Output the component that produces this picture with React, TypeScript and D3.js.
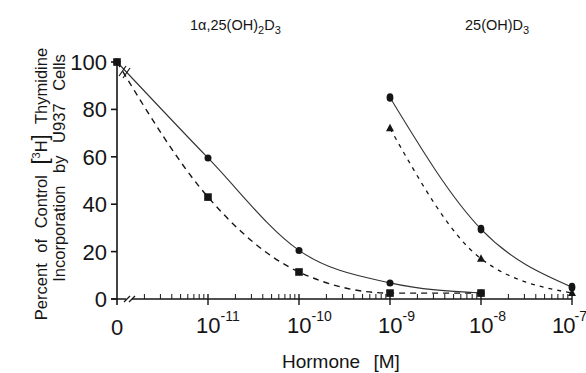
import React from "react";
import * as d3 from "d3";

// 1α,25(OH)2D3 series
const CAL_DOSE = [0, 1e-11, 1e-10, 1e-9, 1e-8];
const CAL_CIRCLE = [100, 59.5, 20.5, 6.8, 2.5];
const CAL_SQUARE = [100, 43, 11.4, 2.5, 2.5];

// 25(OH)D3 series
const HYD_DOSE = [1e-9, 1e-8, 1e-7];
const HYD_CIRCLE = [85, 29.5, 5];
const HYD_TRIANGLE = [72, 17, 2.5];

const Y_TICKS = [0, 20, 40, 60, 80, 100];
const X_DECADES = [-11, -10, -9, -8, -7];

const W = 586;
const H = 373;
const FONT = "'Liberation Sans', Arial, sans-serif";
const INK = "#151515";

export default function App() {
  const x = d3.scaleLog().domain([1e-12, 1e-7]).range([117, 572]);
  const y = d3.scaleLinear().domain([0, 100]).range([299, 62]);
  const xPos = (d: number) => (d === 0 ? x(1e-12) : x(d));

  const line = d3
    .line<[number, number]>()
    .x((d) => xPos(d[0]))
    .y((d) => y(d[1]))
    .curve(d3.curveMonotoneX);

  const zip = (a: number[], b: number[]) => a.map((v, i) => [v, b[i]] as [number, number]);

  const minor: number[] = [];
  for (let e = -12; e <= -8; e++) {
    for (let k = 2; k <= 9; k++) minor.push(k * Math.pow(10, e));
  }

  const y0 = y(0);

  return (
    <svg
      width={W}
      height={H}
      style={{ position: "absolute", left: 0, top: 0, background: "#fff" }}
      fontFamily={FONT}
      fill={INK}
    >
      <rect width={W} height={H} fill="#fff" />

      {/* titles */}
      <text x={190} y={30} fontSize={14.5}>
        1α,25(OH)<tspan fontSize={11} dy={4}>2</tspan>
        <tspan dy={-4}>D</tspan>
        <tspan fontSize={11} dy={4}>3</tspan>
      </text>
      <text x={465} y={30} fontSize={14.5}>
        25(OH)D<tspan fontSize={11} dy={4}>3</tspan>
      </text>

      {/* y axis */}
      <line x1={117} x2={117} y1={y(100)} y2={y0 + 6} stroke={INK} strokeWidth={1.6} />
      {Y_TICKS.map((t) => (
        <g key={t}>
          <line x1={111} x2={117} y1={y(t)} y2={y(t)} stroke={INK} strokeWidth={1.6} />
          <text x={107} y={y(t) + 8} fontSize={22} textAnchor="end">
            {t}
          </text>
        </g>
      ))}

      {/* x axis */}
      <line x1={111} x2={x(1e-7)} y1={y0} y2={y0} stroke={INK} strokeWidth={1.6} />
      <rect x={126} y={y0 - 2} width={6} height={4} fill="#fff" />
      <line x1={124} x2={130} y1={y0 + 3} y2={y0 - 3} stroke={INK} strokeWidth={1.3} />
      <line x1={129} x2={135} y1={y0 + 3} y2={y0 - 3} stroke={INK} strokeWidth={1.3} />
      {minor.map((m, i) => (
        <line key={i} x1={x(m)} x2={x(m)} y1={y0} y2={y0 - 5} stroke={INK} strokeWidth={1} />
      ))}
      {X_DECADES.map((e) => {
        const tx = x(Math.pow(10, e));
        const last = e === X_DECADES[X_DECADES.length - 1];
        return (
          <g key={e}>
            <line x1={tx} x2={tx} y1={y0 - 5} y2={y0 + 6} stroke={INK} strokeWidth={1.4} />
            <text x={last ? tx - 20 : tx - 12} y={333} fontSize={22} letterSpacing={last ? -1 : 0}>
              10
              <tspan fontSize={14} dy={-12} letterSpacing={0}>
                {e}
              </tspan>
            </text>
          </g>
        );
      })}
      <text x={117} y={335} fontSize={22} textAnchor="middle">
        0
      </text>

      {/* axis titles */}
      <text x={282} y={368} fontSize={19} wordSpacing={8}>
        Hormone  [M]
      </text>
      <text
        transform={`translate(47,184) rotate(-90)`}
        fontSize={16.5}
        textAnchor="middle"
        wordSpacing={6}
      >
        Percent of Control{" "}
        <tspan fontSize={22}>[</tspan>
        <tspan fontSize={11} dy={-7}>3</tspan>
        <tspan dy={7}>H</tspan>
        <tspan fontSize={22}>]</tspan> Thymidine
      </text>
      <text
        transform={`translate(65,168) rotate(-90)`}
        fontSize={16.5}
        textAnchor="middle"
        wordSpacing={8}
      >
        Incorporation by U937 Cells
      </text>

      {/* curves */}
      <path d={line(zip(CAL_DOSE, CAL_CIRCLE)) || ""} fill="none" stroke="#333" strokeWidth={1.1} />
      <path
        d={line(zip(CAL_DOSE, CAL_SQUARE)) || ""}
        fill="none"
        stroke={INK}
        strokeWidth={1.4}
        strokeDasharray="6,5"
      />
      <path d={line(zip(HYD_DOSE, HYD_CIRCLE)) || ""} fill="none" stroke="#333" strokeWidth={1.1} />
      <path
        d={line(zip(HYD_DOSE, HYD_TRIANGLE)) || ""}
        fill="none"
        stroke={INK}
        strokeWidth={1.3}
        strokeDasharray="4,5"
      />

      {/* break marks on curves */}
      <line x1={119} x2={126} y1={76} y2={66} stroke={INK} strokeWidth={1.2} />
      <line x1={123} x2={130} y1={78} y2={68} stroke={INK} strokeWidth={1.2} />

      {/* markers */}
      {CAL_DOSE.map((d, i) => (
        <circle key={"cc" + i} cx={xPos(d)} cy={y(CAL_CIRCLE[i])} r={3.5} />
      ))}
      {CAL_DOSE.map((d, i) => (
        <rect key={"cs" + i} x={xPos(d) - 3.8} y={y(CAL_SQUARE[i]) - 3.8} width={7.6} height={7.6} />
      ))}
      {HYD_DOSE.map((d, i) => (
        <ellipse key={"hc" + i} cx={xPos(d)} cy={y(HYD_CIRCLE[i])} rx={3.4} ry={4.3} />
      ))}
      {HYD_DOSE.map((d, i) => {
        const cx = xPos(d);
        const cy = y(HYD_TRIANGLE[i]);
        return (
          <path key={"ht" + i} d={`M${cx},${cy - 4.5}L${cx + 4},${cy + 3}L${cx - 4},${cy + 3}Z`} />
        );
      })}
    </svg>
  );
}
